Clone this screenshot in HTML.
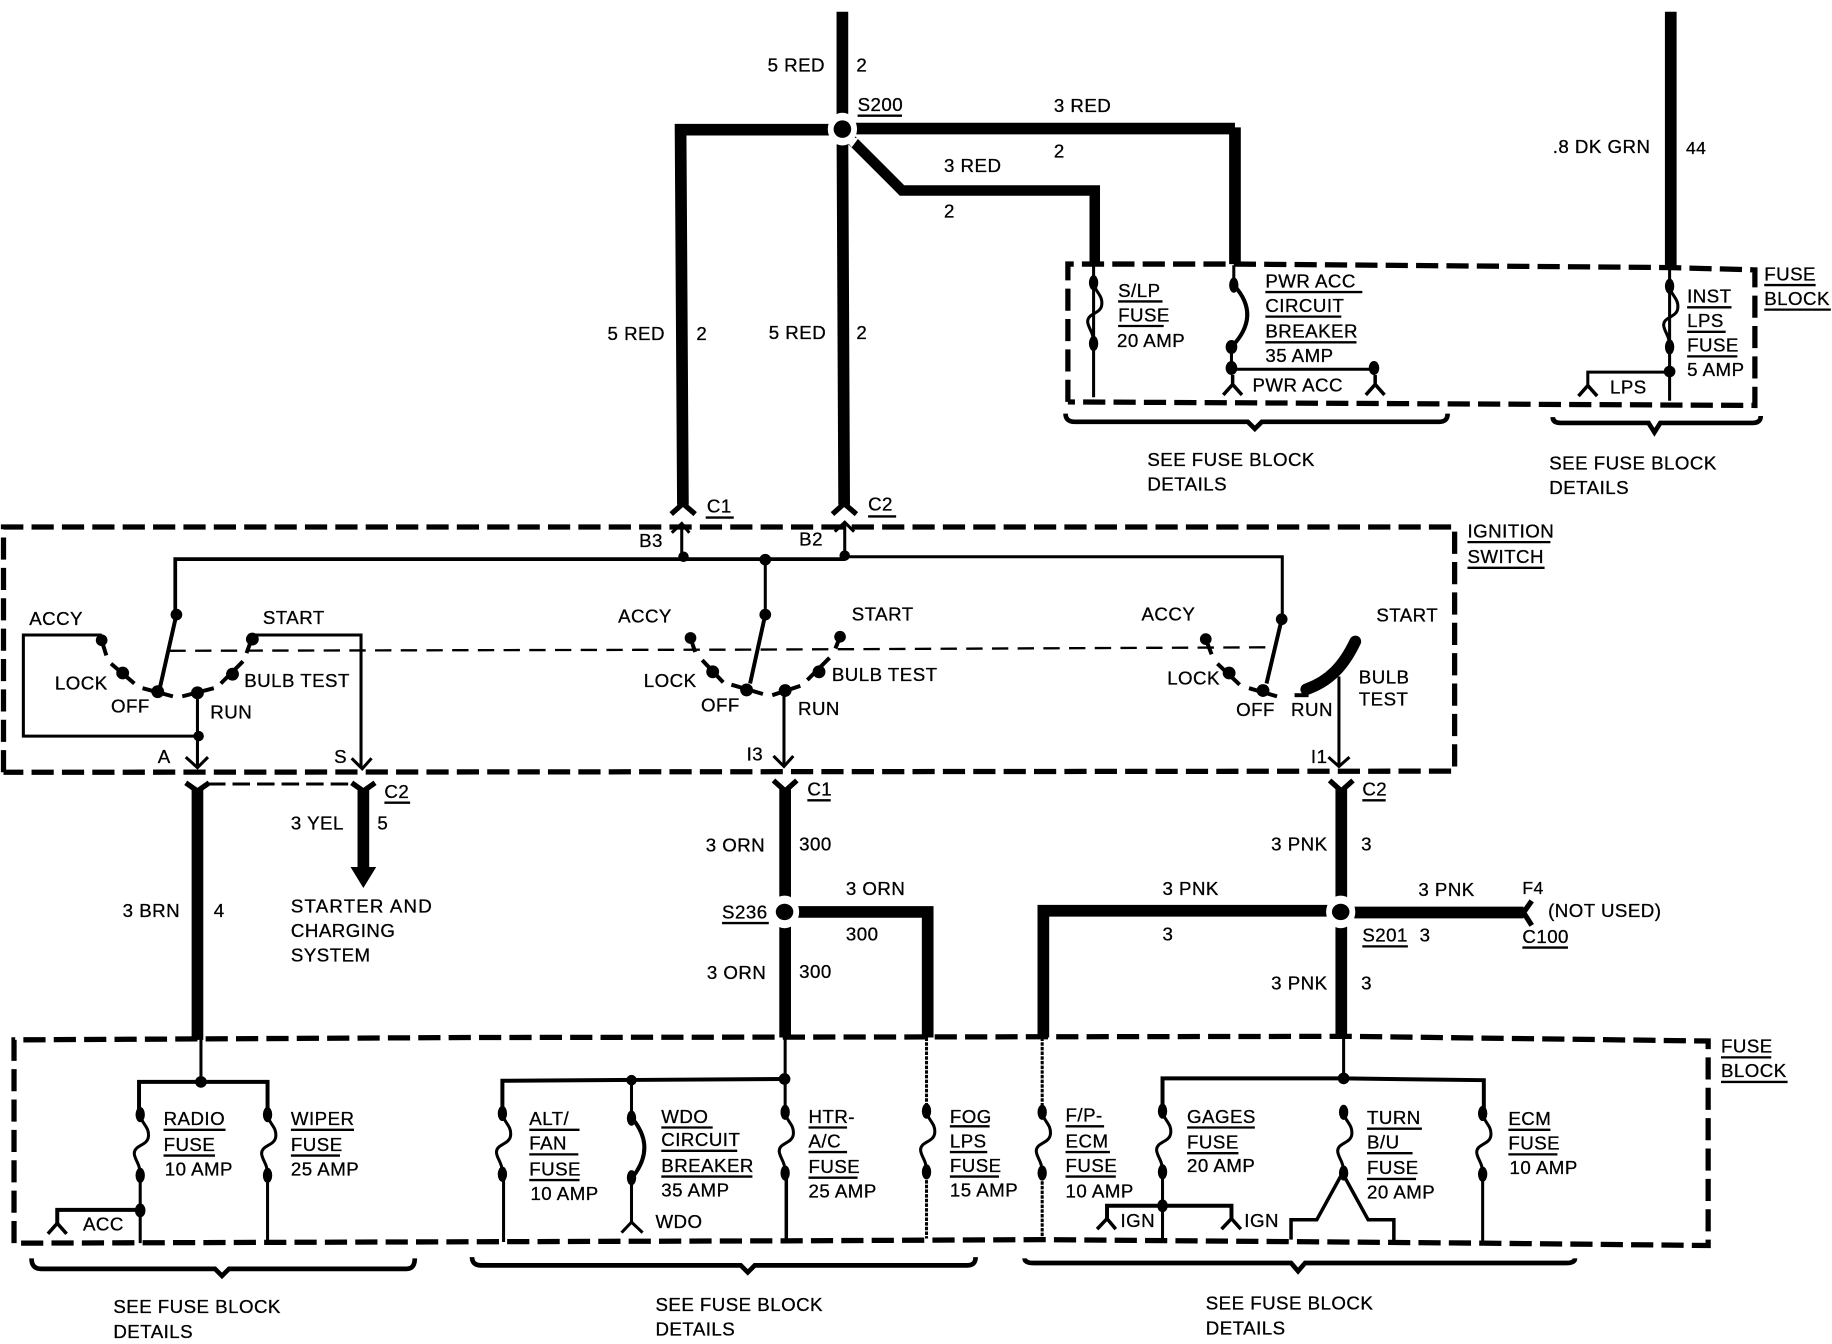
<!DOCTYPE html>
<html><head><meta charset="utf-8"><title>Ignition switch wiring diagram</title>
<style>
html,body{margin:0;padding:0;background:#fff;width:1832px;height:1344px;overflow:hidden}
svg{display:block}
text{font-family:"Liberation Sans",sans-serif;font-size:16px;fill:#000;stroke:#000;stroke-width:.25px;letter-spacing:.4px}
.w,.t,.d,.m,.n,.b{fill:none;stroke:#000}
.t{stroke-width:10}
.w{stroke-width:2.6}
.n{stroke-width:2}
.m{stroke-width:3.4}
.d{stroke-width:4.5;stroke-dasharray:19 7}
.b{stroke-width:4}
.c{fill:none;stroke:#000;stroke-width:4.5}
</style></head><body>
<svg width="1832" height="1344" viewBox="0 0 1568 1150.3" xmlns="http://www.w3.org/2000/svg">
<defs>
<g id="f">
<ellipse cx="0" cy="0" rx="4" ry="6.5"/><ellipse cx="0" cy="52" rx="4" ry="6.5"/>
<path class="w" d="M0,0C1,8 8,10 7,19C6,27 -6,26 -5,34C-4,40 0,42 0,52"/>
</g>
<g id="y"><path class="w" d="M0,0V9M-8,17L0,8L8,17" style="stroke-width:3"/></g>
</defs>

<!-- thick wires -->
<path class="t" d="M721,10V110L722.500,432"/>
<path class="t" d="M584.500,432L582.500,111H721"/>
<path class="t" d="M721,110H1057V109V226"/>
<path class="t" style="stroke-width:9" d="M727,118L772,163H937V226"/>
<path class="t" d="M1430,10V230"/>
<ellipse cx="721" cy="110.500" rx="12.500" ry="14" fill="#fff"/><path fill="#fff" d="M722,118L735,118L729,126Z"/><circle cx="721" cy="110.500" r="7.500"/>
<path class="c" d="M574.500,440L584.500,431L595,440M712.500,440L722.500,431L733,440"/>

<!-- top fuse block -->
<path class="d" d="M914,344V226H1057L1430,229L1502,231V347L914,344"/>
<path class="b" d="M912,354Q912,361 920,361H1068L1074,367L1080,361H1232Q1239,361 1239,354"/>
<path class="b" d="M1329,357Q1329,362 1336,362H1411L1416,370L1421,362H1500Q1507,362 1507,356"/>
<path class="w" d="M936,227V340"/>
<use href="#f" x="936" y="242"/>
<path class="w" d="M1056,227V244"/>
<ellipse cx="1056" cy="244" rx="4" ry="6.5"/><ellipse cx="1054" cy="297" rx="5" ry="6"/><ellipse cx="1054" cy="315" rx="5" ry="6"/><ellipse cx="1176" cy="315" rx="4.5" ry="6"/>
<path class="m" d="M1056,244Q1080,270 1054,297"/>
<path class="w" d="M1054,297V316H1176"/>
<use href="#y" x="1055" y="321"/><use href="#y" x="1177" y="321"/>
<path class="w" d="M1429,229V343"/>
<use href="#f" x="1429" y="245"/>
<circle cx="1429" cy="318" r="5"/>
<path class="w" d="M1429,318.500H1359V330"/>
<path class="w" style="stroke-width:3" d="M1351,339L1359,330L1367,339"/>

<!-- ignition switch box -->
<path class="d" d="M3,661V451H1245V660L3,661"/>
<path class="n" style="stroke-dasharray:14 8" d="M145,557L640,556L1088,554"/>
<path class="w" style="stroke-width:3.200" d="M150,526V478.500H723"/><path class="w" d="M723,476.500H1097.500V528"/>
<path class="w" d="M655,478V526M583.500,476V449M723,476V448"/>
<path class="w" d="M575,456L583.500,448L590,456M714.500,455L723,447L731,455"/>
<circle cx="585" cy="476.500" r="4.500"/><circle cx="655" cy="479" r="5"/><circle cx="723" cy="475.500" r="4.500"/>

<!-- left switch -->
<g>
<circle cx="151" cy="526" r="5"/><circle cx="87" cy="548" r="5"/><circle cx="105" cy="576" r="5.500"/><circle cx="135" cy="592" r="5.500"/><circle cx="169" cy="593" r="5.500"/><circle cx="199" cy="577" r="5.500"/><circle cx="216" cy="547" r="5.500"/><circle cx="170" cy="630" r="4.500"/>
<path class="m" d="M151,526L137,588M87,548L91,561M95,568L115,585M122,589L148,596M156,596L183,589M189,585L208,566M215,548L211,559"/>
<path class="w" d="M87,543.500H20V630H170M169,593V657M216,543.500H309V657"/>
<path class="w" d="M159,648L169,657L178,648M301,649L310,658L318,649"/>
</g>
<!-- middle switch -->
<g>
<circle cx="655" cy="526" r="5"/><circle cx="591" cy="546" r="5"/><circle cx="610" cy="575" r="5.500"/><circle cx="639" cy="590.500" r="5.500"/><circle cx="672" cy="591" r="5.500"/><circle cx="701" cy="575" r="5.500"/><circle cx="719" cy="545" r="5"/>
<path class="m" d="M655,526L642,585M591,546L595,558M601,565L619,584M626,586L653,594M661,595L685,587M691,582L710,563M719,545L715,555"/>
<path class="w" d="M671,591V656M662,647L671,656L679,647"/>
</g>
<!-- right switch -->
<g>
<circle cx="1097" cy="530" r="5"/><circle cx="1032" cy="547" r="5"/><circle cx="1052" cy="576" r="5.500"/><circle cx="1081" cy="591" r="5.500"/>
<path class="m" d="M1097,530L1084,585M1032,547L1037,560M1042,568L1061,586M1069,589L1093,596"/>
<path style="fill:none;stroke:#000;stroke-width:10;stroke-linecap:round" d="M1160,549C1150,570 1138,583 1118,590"/>
<path class="m" d="M1108,595H1120"/>
<path class="w" d="M1146,579V656M1137,648L1146,656L1155,648"/>
</g>

<!-- mid section wires -->
<path class="c" d="M159,670L169,677L179,670M301,670L311,677L321,670M662,668L672,677L682,668M1138,668L1148,677L1158,668"/>
<path class="t" d="M169,675V890"/>
<path class="t" d="M311,675V744"/>
<path d="M300,742H322L311,760Z"/>
<path class="n" style="stroke-width:2.500;stroke-dasharray:15 6" d="M178,671H304"/>
<path class="t" d="M672,675V888"/>
<path class="t" d="M672,780.500H794V888"/>
<ellipse cx="671.500" cy="780.500" rx="12.500" ry="14" fill="#fff"/><ellipse cx="671.500" cy="780.500" rx="7.500" ry="7"/>
<path class="t" d="M1148,675V888"/>
<path class="t" d="M893,888V779.500H1148"/>
<path class="t" d="M1148,781H1304"/>
<ellipse cx="1147.500" cy="780.500" rx="12.500" ry="14" fill="#fff"/><ellipse cx="1147.500" cy="780.500" rx="7.500" ry="7"/>
<path class="c" d="M1311,771L1304,781L1311,792"/>

<!-- lower fuse block -->
<path class="d" d="M12,1064V890L400,888L1154,887L1462,891V1066L1269,1064L892,1061L671,1062L12,1064"/>
<path class="b" d="M27,1077Q27,1086 35,1086H184L190,1092L196,1086H348Q355,1086 355,1077"/>
<path class="b" d="M404,1076Q404,1083 412,1083H634L640,1089L646,1083H828Q835,1083 835,1076"/>
<path class="b" d="M877,1077Q877,1081 885,1081H1105L1111,1088L1117,1081H1340Q1348,1081 1348,1077"/>

<path class="w" d="M172,888V926"/><path class="m" d="M119,954V926H229V954"/>
<circle cx="172" cy="926" r="5"/>
<use href="#f" x="120" y="954"/><use href="#f" x="229" y="954"/>
<path class="w" d="M120,1006V1064M229,1006V1064"/>
<ellipse cx="120" cy="1036" rx="4.500" ry="6"/>
<path class="m" d="M120,1035.500H49V1047"/><path class="w" style="stroke-width:3" d="M41,1056L49,1047L57,1056"/>

<path class="w" d="M672,888V924"/><path class="m" d="M430,953V925L671,923.500"/>
<circle cx="540.500" cy="924.500" r="4.500"/><circle cx="671.500" cy="923.500" r="5"/>
<use href="#f" x="430" y="953"/><path class="w" d="M431,1005V1063"/>
<path class="w" d="M540.500,924V957"/>
<ellipse cx="540.500" cy="957" rx="4" ry="6.500"/><ellipse cx="540.500" cy="1008" rx="4" ry="6.500"/>
<path class="m" d="M541,957Q562,982 541,1008"/><path class="w" d="M540.500,1008V1047M532,1055L540.500,1046L550,1055"/>
<path class="w" d="M672,924V952"/><use href="#f" x="672" y="952"/><path class="w" style="stroke-width:3" d="M673,1004V1062"/>
<path class="w" style="stroke-dasharray:3 1" d="M793,888V951M793,1002V1060"/><use href="#f" x="793" y="951"/>
<path class="w" style="stroke-dasharray:3 1" d="M892,888V952M892,1003V1061"/><use href="#f" x="892" y="952"/>

<path class="w" d="M1150,888V923"/><path class="m" d="M995,951V923H1150L1270,924.500V953"/>
<circle cx="1150" cy="923" r="5"/>
<use href="#f" x="995" y="951"/><path class="w" d="M995,1003V1061"/>
<ellipse cx="995" cy="1032" rx="4.500" ry="5.500"/>
<path class="m" d="M947.500,1043V1032H1054V1043"/>
<path class="w" style="stroke-width:3" d="M939,1052L947.500,1043L955,1052M1045.500,1052L1054,1043L1062,1052"/>
<use href="#f" x="1150" y="952"/>
<path class="w" style="stroke-width:3" d="M1105,1061V1044H1127L1149,1004L1171,1044H1193V1062"/>
<use href="#f" x="1269" y="953"/><path class="w" d="M1269,1005V1064"/>

<!-- underlines -->
<path class="n" d="M734,99h38M604,443h24M743,442h24M1256,464h71M1256,486h66M957,258h38M957,279h39M1083,250h83M1083,271h65M1083,293h78M1510,244h44M1510,265h57M1444,263h38M1444,284h33M1444,305h43M329,687h22M691,685h20M1166,685h20M618,790h40M1303,811h39M1166,810h39M1473,905h43M1473,926h57M140,967h53M140,989h44M249,967h54M249,989h42M453,967h43M453,988h42M453,1010h43M566,965h44M566,985h65M566,1007h78M692,965h33M692,986h33M692,1008h42M813,964h34M813,986h32M813,1007h42M912,964h33M912,986h38M912,1007h43M1016,965h58M1016,987h44M1170,966h47M1170,987h39M1170,1009h42M1291,967h36M1291,988h42"/>

<!-- labels -->
<text x="657" y="61">5 RED</text><text x="733" y="61">2</text>
<text x="734" y="95">S200</text>
<text x="902" y="96">3 RED</text><text x="902" y="135">2</text>
<text x="808" y="147">3 RED</text><text x="808" y="186">2</text>
<text x="1329" y="131">.8 DK GRN</text><text x="1443" y="132" style="font-size:15px">44</text>
<text x="520" y="291">5 RED</text><text x="596" y="291">2</text>
<text x="658" y="290">5 RED</text><text x="733" y="290">2</text>
<text x="605" y="438.500">C1</text><text x="743" y="437">C2</text>
<text x="547" y="468">B3</text><text x="684" y="467">B2</text>
<text x="1256" y="460">IGNITION</text><text x="1256" y="482">SWITCH</text>
<text x="957" y="254">S/LP</text><text x="957" y="275">FUSE</text><text x="956" y="297">20 AMP</text>
<text x="1083" y="246">PWR ACC</text><text x="1083" y="267">CIRCUIT</text><text x="1083" y="289">BREAKER</text><text x="1083" y="310">35 AMP</text>
<text x="1072" y="335">PWR ACC</text>
<text x="1510" y="240">FUSE</text><text x="1510" y="261">BLOCK</text>
<text x="1444" y="259">INST</text><text x="1444" y="280">LPS</text><text x="1444" y="301">FUSE</text><text x="1444" y="322">5 AMP</text>
<text x="1378" y="337">LPS</text>
<text x="982" y="399">SEE FUSE BLOCK</text><text x="982" y="420">DETAILS</text>
<text x="1326" y="402">SEE FUSE BLOCK</text><text x="1326" y="423">DETAILS</text>

<text x="25" y="535">ACCY</text><text x="225" y="534">START</text><text x="47" y="590">LOCK</text><text x="95" y="610">OFF</text><text x="209" y="588">BULB TEST</text><text x="180" y="615">RUN</text><text x="135" y="653">A</text><text x="286" y="653">S</text>
<text x="529" y="533">ACCY</text><text x="729" y="531">START</text><text x="551" y="588">LOCK</text><text x="600" y="609">OFF</text><text x="712" y="583">BULB TEST</text><text x="683" y="612">RUN</text><text x="639" y="651">I3</text>
<text x="977" y="531">ACCY</text><text x="1178" y="532">START</text><text x="999" y="586">LOCK</text><text x="1058" y="613">OFF</text><text x="1105" y="613">RUN</text><text x="1163" y="585">BULB</text><text x="1163" y="604">TEST</text><text x="1122" y="653">I1</text>

<text x="329" y="683">C2</text><text x="691" y="681">C1</text><text x="1166" y="681">C2</text>
<text x="249" y="710">3 YEL</text><text x="323" y="710">5</text>
<text x="105" y="785">3 BRN</text><text x="183" y="785">4</text>
<text x="249" y="781" style="letter-spacing:1px">STARTER AND</text><text x="249" y="802">CHARGING</text><text x="249" y="823">SYSTEM</text>
<text x="604" y="729">3 ORN</text><text x="684" y="728">300</text>
<text x="618" y="786">S236</text>
<text x="724" y="766">3 ORN</text><text x="724" y="805">300</text>
<text x="605" y="838">3 ORN</text><text x="684" y="837">300</text>
<text x="1088" y="728">3 PNK</text><text x="1165" y="728">3</text>
<text x="995" y="766">3 PNK</text><text x="995" y="805">3</text>
<text x="1214" y="767">3 PNK</text><text x="1303" y="765" style="font-size:15px">F4</text>
<text x="1325" y="785">(NOT USED)</text><text x="1303" y="807">C100</text>
<text x="1166" y="806">S201</text><text x="1215" y="806">3</text>
<text x="1088" y="847">3 PNK</text><text x="1165" y="847">3</text>
<text x="1473" y="901">FUSE</text><text x="1473" y="922">BLOCK</text>

<text x="140" y="963">RADIO</text><text x="140" y="985">FUSE</text><text x="141" y="1006">10 AMP</text>
<text x="249" y="963">WIPER</text><text x="249" y="985">FUSE</text><text x="249" y="1006">25 AMP</text>
<text x="71" y="1053">ACC</text>
<text x="453" y="963">ALT/</text><text x="453" y="984">FAN</text><text x="453" y="1006">FUSE</text><text x="454" y="1027">10 AMP</text>
<text x="566" y="961">WDO</text><text x="566" y="981">CIRCUIT</text><text x="566" y="1003">BREAKER</text><text x="566" y="1024">35 AMP</text>
<text x="561" y="1051">WDO</text>
<text x="692" y="961">HTR-</text><text x="692" y="982">A/C</text><text x="692" y="1004">FUSE</text><text x="692" y="1025">25 AMP</text>
<text x="813" y="961">FOG</text><text x="813" y="982">LPS</text><text x="813" y="1003">FUSE</text><text x="813" y="1024">15 AMP</text>
<text x="912" y="960">F/P-</text><text x="912" y="982">ECM</text><text x="912" y="1003">FUSE</text><text x="912" y="1025">10 AMP</text>
<text x="1016" y="961">GAGES</text><text x="1016" y="983">FUSE</text><text x="1016" y="1003">20 AMP</text>
<text x="1170" y="962">TURN</text><text x="1170" y="983">B/U</text><text x="1170" y="1005">FUSE</text><text x="1170" y="1026">20 AMP</text>
<text x="1291" y="963">ECM</text><text x="1291" y="984">FUSE</text><text x="1292" y="1005">10 AMP</text>
<text x="959" y="1050">IGN</text><text x="1065" y="1050">IGN</text>
<text x="97" y="1124">SEE FUSE BLOCK</text><text x="97" y="1145">DETAILS</text>
<text x="561" y="1122">SEE FUSE BLOCK</text><text x="561" y="1143">DETAILS</text>
<text x="1032" y="1121">SEE FUSE BLOCK</text><text x="1032" y="1142">DETAILS</text>
</svg>
</body></html>
